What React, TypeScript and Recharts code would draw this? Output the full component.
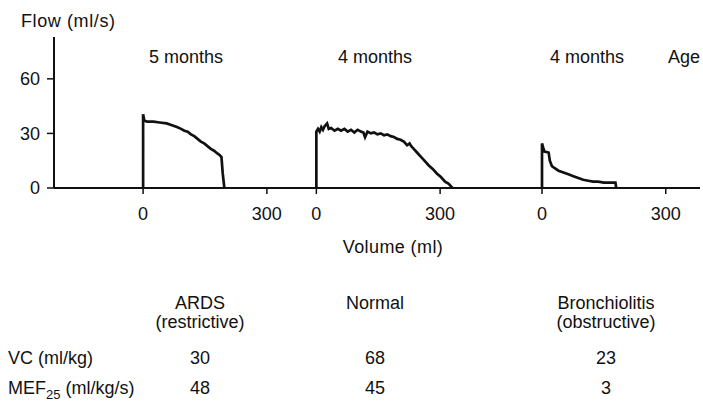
import { LineChart, Line, XAxis, YAxis } from "recharts"

// flow-volume loops (volume in ml, flow in ml/s)
const ardsVolume = [0, 0, 3, 10, 25, 40, 57, 70, 82, 92, 100, 108, 116, 124, 132, 140, 148, 156, 164, 172, 180, 186, 190, 193, 197]
const ardsFlow = [0, 40.5, 37, 36.5, 36.5, 36, 35.5, 34.5, 33.5, 32.5, 31.5, 31, 29.5, 28.5, 27, 25.5, 24.5, 23, 21.5, 20.5, 19, 18, 17, 8, 0]

const normalVolume = [0, 0, 4, 8, 12, 16, 20, 26, 30, 36, 44, 52, 60, 68, 76, 84, 92, 100, 108, 114, 118, 124, 132, 140, 148, 156, 164, 172, 180, 188, 196, 204, 212, 220, 226, 230, 236, 244, 252, 262, 272, 282, 292, 302, 312, 320, 326, 330]
const normalFlow = [0, 31, 32.5, 31, 33.5, 32, 34, 35.5, 32.5, 33, 31.5, 32.5, 31.5, 32.5, 31, 32, 30.5, 32, 31, 30.5, 28, 31, 30, 30.5, 29.5, 30, 29, 29.5, 28.5, 28, 27, 26.5, 25.5, 23.5, 24.5, 23, 21.5, 19.5, 17.5, 15, 12.5, 10.5, 8, 6, 3.5, 2.5, 1, 0]

const bronchVolume = [0, 0, 3, 6, 16, 19, 24, 30, 40, 52, 64, 76, 88, 100, 112, 124, 136, 150, 165, 178, 180]
const bronchFlow = [0, 24.5, 22, 20, 19.5, 15, 12, 11, 9.5, 8.5, 7.5, 6.5, 5.5, 4.5, 4, 3.5, 3.5, 3, 3, 3, 0]

const ages = ["5 months", "4 months", "4 months"]
const groups = [["ARDS", "(restrictive)"], ["Normal"], ["Bronchiolitis", "(obstructive)"]]
const vcValues = [30, 68, 23]
const mefValues = [48, 45, 3]

const yTicks = [0, 30, 60]
const volumeTicks = [0, 300]

// each panel is drawn on one shared volume axis, shifted by this much
const panelShift = [0, 420, 967]

const toPoints = (vol: number[], flow: number[], shift: number) =>
    vol.map((v, i) => ({ x: v + shift, flow: flow[i] }))

const series = [
    toPoints(ardsVolume, ardsFlow, panelShift[0]),
    toPoints(normalVolume, normalFlow, panelShift[1]),
    toPoints(bronchVolume, bronchFlow, panelShift[2]),
]

const xTicks: number[] = []
const xTickLabels: string[] = []
panelShift.forEach(s => volumeTicks.forEach(t => { xTicks.push(s + t); xTickLabels.push(String(t)) }))

const font = "'Liberation Sans', Arial, Helvetica, sans-serif"
const ink = "#111"

const ageX = [186, 375, 587]
const colX = [200, 375, 606]

export default function App()
{
    return (
        <div style={{ position: "absolute", left: 0, top: 0, width: 703, height: 402, background: "#fff" }}>
            <LineChart width={703} height={402} margin={{ top: 37, right: 3, bottom: 184, left: 0 }}>
                <XAxis
                    type="number"
                    dataKey="x"
                    domain={[-216, 1350]}
                    allowDataOverflow
                    ticks={xTicks}
                    tickFormatter={(v: number, i: number) => xTickLabels[i] ?? String(v)}
                    height={30}
                    tickSize={6}
                    tickMargin={13}
                    axisLine={{ stroke: ink, strokeWidth: 2 }}
                    tickLine={{ stroke: ink, strokeWidth: 1.5 }}
                    tick={{ fill: ink, fontSize: 18, fontFamily: font }}
                    interval={0}
                />
                <YAxis
                    type="number"
                    domain={[0, 83]}
                    ticks={yTicks}
                    width={54}
                    tickSize={7}
                    tickMargin={7}
                    axisLine={{ stroke: ink, strokeWidth: 2 }}
                    tickLine={{ stroke: ink, strokeWidth: 1.5 }}
                    tick={{ fill: ink, fontSize: 18, fontFamily: font }}
                    interval={0}
                />
                {series.map((d, i) => (
                    <Line
                        key={i}
                        data={d}
                        dataKey="flow"
                        type="linear"
                        stroke={ink}
                        strokeWidth={2.7}
                        dot={false}
                        isAnimationActive={false}
                    />
                ))}
            </LineChart>
            <svg width={703} height={402} style={{ position: "absolute", left: 0, top: 0, pointerEvents: "none" }}
                fontFamily={font} fontSize={18} fill={ink}>
                <text x={21} y={27} letterSpacing={0.6}>Flow (ml/s)</text>
                {ages.map((a, i) => (
                    <text key={i} x={ageX[i]} y={63} textAnchor="middle">{a}</text>
                ))}
                <text x={668} y={63}>Age</text>
                <text x={393} y={253} textAnchor="middle" letterSpacing={0.4}>Volume (ml)</text>
                {groups.map((g, i) => g.map((line, j) => (
                    <text key={i + "-" + j} x={colX[i]} y={309 + j * 19} textAnchor="middle">{line}</text>
                )))}
                <text x={8} y={364}>VC (ml/kg)</text>
                <text x={8} y={394}>MEF<tspan fontSize={13} dy={5}>25</tspan><tspan dy={-5}> (ml/kg/s)</tspan></text>
                {vcValues.map((v, i) => (
                    <text key={"vc" + i} x={colX[i]} y={364} textAnchor="middle">{v}</text>
                ))}
                {mefValues.map((v, i) => (
                    <text key={"mef" + i} x={colX[i]} y={394} textAnchor="middle">{v}</text>
                ))}
            </svg>
        </div>
    )
}
